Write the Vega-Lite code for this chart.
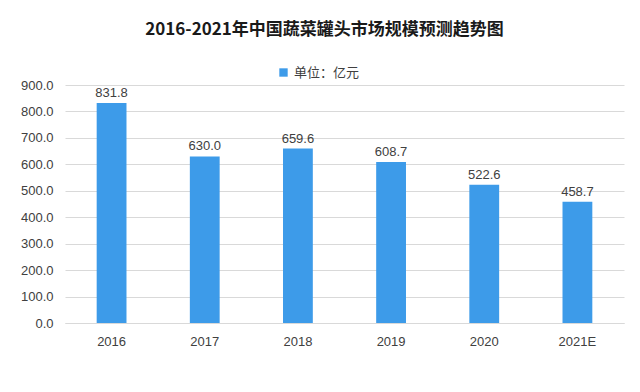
{
  "$schema": "https://vega.github.io/schema/vega-lite/v6.json",
  "width": 559,
  "height": 238,
  "autosize": {"type": "none"},
  "padding": {"left": 65, "top": 85, "right": 16, "bottom": 69},
  "background": "#ffffff",
  "config": {"view": {"stroke": null}, "font": "Noto Sans CJK SC"},
  "title": {
    "text": "2016-2021年中国蔬菜罐头市场规模预测趋势图",
    "fontSize": 17,
    "fontWeight": "bold",
    "color": "#1a1a1a",
    "anchor": "middle",
    "dx": -20,
    "offset": 27
  },
  "data": {
    "values": [
      {"year": "2016", "value": 831.8, "series": "单位：亿元"},
      {"year": "2017", "value": 630.0, "series": "单位：亿元"},
      {"year": "2018", "value": 659.6, "series": "单位：亿元"},
      {"year": "2019", "value": 608.7, "series": "单位：亿元"},
      {"year": "2020", "value": 522.6, "series": "单位：亿元"},
      {"year": "2021E", "value": 458.7, "series": "单位：亿元"}
    ]
  },
  "encoding": {
    "x": {
      "field": "year",
      "type": "nominal",
      "sort": null,
      "scale": {"paddingInner": 0.68, "paddingOuter": 0.34},
      "axis": {
        "title": null,
        "labelAngle": 0,
        "labelFontSize": 13,
        "labelColor": "#404040",
        "labelFont": "Liberation Sans",
        "labelPadding": 12,
        "ticks": false,
        "domainColor": "#d9d9d9"
      }
    },
    "y": {
      "field": "value",
      "type": "quantitative",
      "scale": {"domain": [0, 900]},
      "axis": {
        "title": null,
        "values": [0, 100, 200, 300, 400, 500, 600, 700, 800, 900],
        "format": ".1f",
        "labelFontSize": 13,
        "labelColor": "#404040",
        "labelFont": "Liberation Sans",
        "labelPadding": 12,
        "ticks": false,
        "domain": false,
        "gridColor": "#d9d9d9"
      }
    }
  },
  "layer": [
    {
      "mark": {"type": "bar", "color": "#3d9be9"},
      "encoding": {
        "color": {
          "field": "series",
          "type": "nominal",
          "scale": {"range": ["#3d9be9"]},
          "legend": {
            "title": null,
            "orient": "none",
            "legendX": 212,
            "legendY": -19,
            "symbolType": "square",
            "symbolSize": 70,
            "labelFontSize": 13,
            "labelColor": "#404040"
          }
        }
      }
    },
    {
      "mark": {"type": "text", "dy": -10, "fontSize": 13, "color": "#404040", "font": "Liberation Sans"},
      "encoding": {
        "text": {"field": "value", "type": "quantitative", "format": ".1f"}
      }
    }
  ]
}
